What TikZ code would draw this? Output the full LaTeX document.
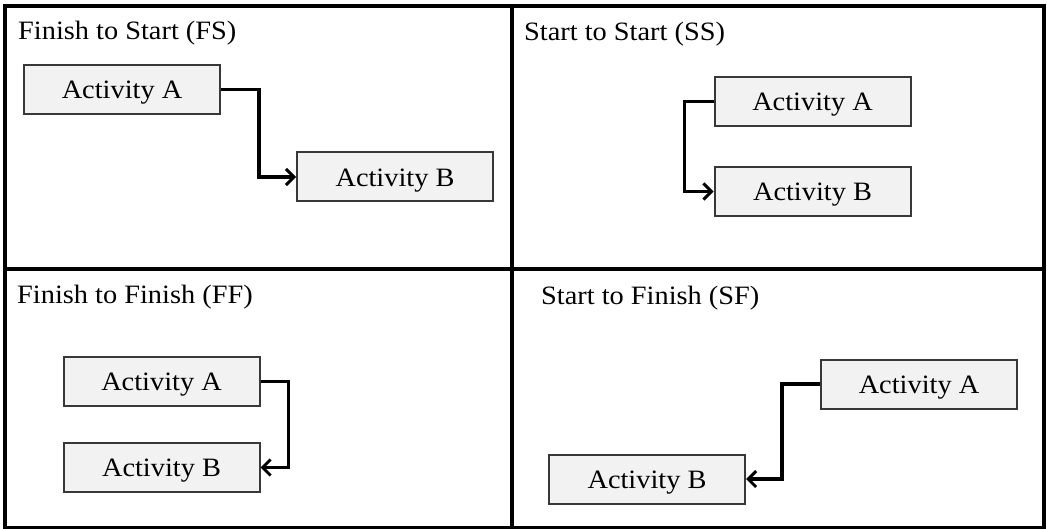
\documentclass[tikz,border=0pt]{standalone}
\usepackage{fontspec}
\setmainfont{Liberation Serif}[FakeStretch=1.07]
\usetikzlibrary{arrows.meta}
\definecolor{boxfill}{HTML}{F2F2F2}
\definecolor{boxline}{HTML}{383838}
\tikzset{
  actbox/.style={draw=boxline, line width=2pt, fill=boxfill, minimum width=196pt, minimum height=49pt, inner sep=0pt, text height=18.5pt, text depth=0pt, font=\fontsize{26.5}{30}\selectfont},
  title/.style={anchor=base west, inner sep=0pt, font=\fontsize{26.5}{30}\selectfont},
  link/.style={draw=black, line width=3.2pt, -{Straight Barb[length=8pt,width=16pt,line width=3pt]}},
  frame/.style={draw=black, line width=3.5pt}
}
\begin{document}
\begin{tikzpicture}[x=1pt,y=-1pt]
\useasboundingbox (0,0) rectangle (1047,529);
\fill[white] (0,0) rectangle (1047,529);
% frame
\draw[frame] (5,6) rectangle (1044,527.5);
\draw[frame] (512,6) -- (512,527.5);
\draw[frame] (5,269) -- (1044,269);
% titles
\node[title] (tfs) at (18,40) {Finish to Start (FS)};
\node[title] (tss) at (524,41) {Start to Start (SS)};
\node[title] (tff) at (17,304) {Finish to Finish (FF)};
\node[title] (tsf) at (541,305) {Start to Finish (SF)};
% FS
\node[actbox] (fsa) at (122,89.5) {Activity A};
\node[actbox] (fsb) at (395,177) {Activity B};
\draw[link] (fsa.east) -- ++(38,0) |- (fsb.west);
% SS
\node[actbox] (ssa) at (812.5,101.5) {Activity A};
\node[actbox] (ssb) at (812.5,191.5) {Activity B};
\draw[link] (ssa.west) -- ++(-29,0) |- (ssb.west);
% FF
\node[actbox] (ffa) at (161.5,381.5) {Activity A};
\node[actbox] (ffb) at (161.5,467.5) {Activity B};
\draw[link] (ffa.east) -- ++(28,0) |- (ffb.east);
% SF
\node[actbox] (sfa) at (919,384) {Activity A};
\node[actbox] (sfb) at (647,479) {Activity B};
\draw[link] (sfa.west) -- ++(-38,0) |- (sfb.east);
\end{tikzpicture}
\end{document}
